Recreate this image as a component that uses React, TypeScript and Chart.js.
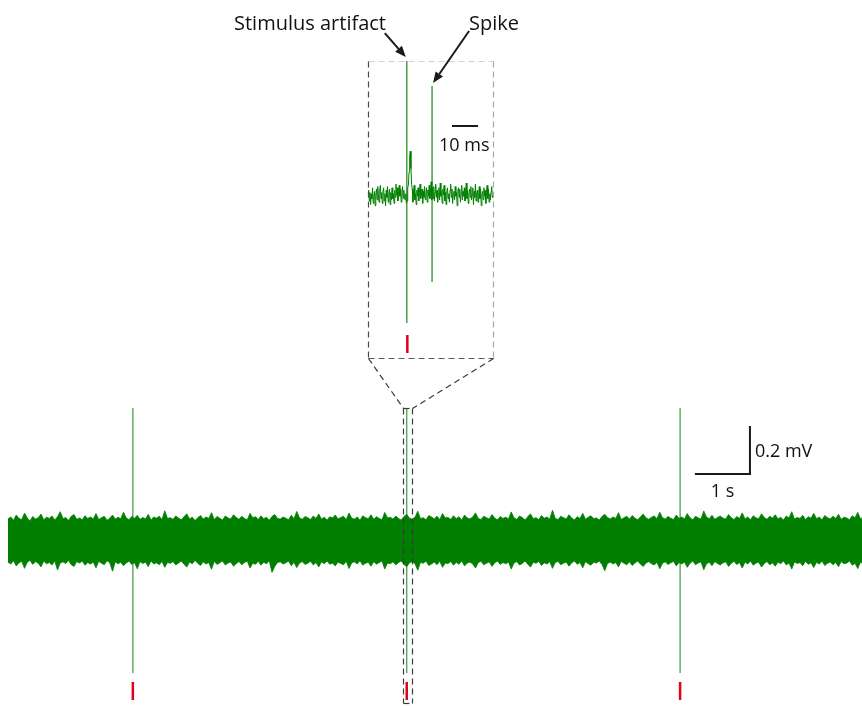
import React, { useEffect, useRef } from "react";
import { Chart, registerables } from "chart.js";

Chart.register(...registerables);

// ---------------- DATA ----------------
// Main recording: noise envelope, sampled every 0.05 s (values in µV)
const BAND_DT_S = 0.05;
const bandUpperUV = [
  88, 96, 82, 104, 90, 85, 112, 92, 80, 98, 87, 93, 108, 84, 95, 90, 100, 83, 97, 118,
  89, 94, 81, 99, 106, 86, 92, 84, 101, 90, 96, 88, 110, 85, 93, 99, 82, 91, 104, 87,
  95, 89, 116, 92, 84, 98, 90, 103, 86, 94, 88, 107, 83, 96, 91, 99, 85, 122, 90, 93,
  86, 100, 92, 84, 97, 109, 88, 95, 81, 93, 102, 87, 96, 90, 114, 85, 98, 91, 83, 100,
  92, 88, 105, 94, 86, 99, 90, 84, 111, 93, 97, 85, 101, 89, 95, 82, 98, 106, 90, 87,
  96, 91, 84, 103, 89, 119, 92, 86, 98, 93, 85, 100, 90, 108, 87, 95, 83, 97, 92, 104,
  88, 94, 99, 85, 112, 91, 87, 96, 82, 101, 93, 89, 105, 86, 97, 90, 84, 115, 92, 95,
  87, 100, 90, 83, 98, 107, 91, 86, 95, 120, 89, 93, 84, 102, 96, 88, 99, 85, 110, 92,
  94, 86, 101, 89, 97, 83, 104, 92, 88, 96, 113, 90, 85, 99, 93, 87, 106, 91, 84, 98,
  90, 95, 88, 117, 92, 86, 100, 94, 83, 97, 109, 89, 93, 85, 102, 91, 96, 87, 124, 90,
  85, 99, 93, 88, 105, 91, 84, 97, 90, 111, 86, 95, 101, 89, 92, 83, 98, 107, 94, 88,
  96, 90, 114, 85, 93, 99, 87, 102, 91, 84, 97, 108, 92, 86, 95, 100, 89, 116, 93, 87,
  98, 91, 85, 104, 90, 96, 88, 110, 93, 84, 99, 92, 87, 121, 95, 89, 103, 86, 94, 100,
  91, 87, 106, 93, 85, 98, 90, 113, 88, 96, 84, 101, 92, 89, 109, 94, 86, 99, 91, 105,
  88, 95, 83, 100, 92, 118, 87, 94, 90, 103, 85, 97, 91, 111, 89, 96, 84, 102, 93, 88,
  99, 90, 107, 86, 95, 92, 84, 101, 93, 115, 88, 97, 90, 104, 85, 96, 92, 100, 87, 94,
];
const bandLowerUV = [
  -92, -100, -86, -108, -95, -89, -118, -93, -84, -102, -90, -97, -112, -88, -99, -94, -104, -87, -125, -96,
  -91, -98, -85, -103, -110, -90, -96, -88, -105, -94, -100, -92, -116, -89, -97, -103, -86, -95, -130, -91,
  -99, -93, -107, -96, -88, -102, -94, -120, -90, -98, -92, -111, -87, -100, -95, -103, -89, -114, -94, -97,
  -90, -104, -96, -88, -101, -113, -92, -99, -85, -97, -106, -91, -100, -94, -122, -89, -102, -95, -87, -104,
  -96, -92, -109, -98, -90, -103, -94, -88, -117, -97, -101, -89, -105, -93, -99, -86, -135, -110, -94, -91,
  -100, -95, -88, -107, -93, -115, -96, -90, -102, -97, -89, -104, -94, -112, -91, -99, -87, -101, -96, -108,
  -92, -98, -103, -89, -119, -95, -91, -100, -86, -105, -97, -93, -109, -90, -101, -94, -88, -121, -96, -99,
  -91, -104, -94, -87, -102, -111, -95, -90, -99, -126, -93, -97, -88, -106, -100, -92, -103, -89, -114, -96,
  -98, -90, -105, -93, -101, -87, -108, -96, -92, -100, -117, -94, -89, -103, -97, -91, -110, -95, -88, -102,
  -94, -99, -92, -121, -96, -90, -104, -98, -87, -101, -113, -93, -97, -89, -106, -95, -100, -91, -118, -94,
  -89, -103, -97, -92, -109, -95, -88, -101, -94, -116, -90, -99, -105, -93, -96, -87, -102, -128, -98, -92,
  -100, -94, -112, -89, -97, -103, -91, -106, -95, -88, -101, -110, -96, -90, -99, -104, -93, -120, -97, -91,
  -102, -95, -89, -108, -94, -100, -92, -114, -97, -88, -103, -96, -91, -124, -99, -93, -107, -90, -98, -104,
  -95, -91, -110, -97, -89, -102, -94, -117, -92, -100, -88, -105, -96, -93, -113, -98, -90, -103, -95, -109,
  -92, -99, -87, -104, -96, -121, -91, -98, -94, -107, -89, -101, -95, -115, -93, -100, -88, -106, -97, -92,
  -103, -94, -111, -90, -99, -96, -88, -105, -97, -119, -92, -101, -94, -108, -89, -100, -96, -104, -91, -98,
];

// Stimulus times (s) and the evoked deflections (mV)
const stimTimesS = [2.27, 7.25, 12.22];
const spikeTopMV = [0.55, 0.55, 0.55];
const spikeBottomMV = [-0.554, -0.554, -0.554];
const stimMarkerMV = [-0.592, -0.667]; // red stimulus tick: top, bottom

// Zoomed window on the middle stimulus (s, mV)
const zoomWindowS = [7.18, 7.345];
const zoomWindowMV = [0.55, -0.679];

// Inset trace, sampled every 0.25 ms (values in µV)
const INSET_DT_MS = 0.25;
const insetNoiseUV = [
  -5, 20, -25, 10, -40, 5, -15, 30, -35, -10, 15, -45, 0,
  25, -20, 35, -5, -30, 20, 40, -15, 10, -35, 15, 30,
  -25, 5, -45, 20, -10, 35, -30, 0, 25, -40, 10, -20, 30, -15, 5, -35,
  20, -10, 45, 0, 30, -25, 15, 40, -5, 25, -30, 10, 35, -15, 20, -10,
  -20, 5, -35, -25, 30, 40, 95,
  165, 183, 110,
  45, 25, -30, 15, 40, -20, 5, -40, 20, -5, 30, -25, 10, 45, -15, 0, 25, -35, 15, -10,
  35, -20, 5, 30, -30, 20, -5, 40, -15, 10, 55,
  -20, 30,
  -15, 35, -25, 10, 45, -10, 20, -30, 5, 30, -20, 50, -5, 15, -35, 25, 0, 40, -25, 10,
  -40, 15, 30, -15, 5, -30, 20, 45, -10, 25, -35, 0, 15, -20, 35, -5, 10, -45, 20, 30,
  -10, 25, -30, 5, 40, -20, 15, -5, 30, -25, 10, 50, -15, 20, -35, 5, 25, -10, 35, -20,
  0, 30, -40, 15, -10, 45, -25, 5, 20, -30, 10, 35, -15, 25, -45, 0, 15, -20, 30, -5,
  20, -35, 10, 40, -15, 25, -30, 5, -20, 15, 35, -10, 0,
];
const insetEventTimesMS = [14.9, 24.6]; // stimulus artifact, spike
const insetEventTopMV = [0.558, 0.454];
const insetEventBottomMV = [-0.533, -0.363];
const insetStimTimesMS = [15.1];
const insetStimMarkerMV = [-0.583, -0.658];
const insetSpanMS = [0, 48];
const insetBoxMV = [0.56, -0.679];

// Scale bars
const scaleBarS = 1;
const scaleBarMV = 0.2;
const scaleBarOriginS = 12.49;
const scaleBarOriginMV = 0.275;
const insetScaleBarMS = 10;
const insetScaleBarStartMS = 32.26;
const insetScaleBarMV = 0.2875;

// Labels
const labelArtifact = "Stimulus artifact";
const labelSpike = "Spike";
const labelInsetBar = "10 ms";
const labelVBar = "0.2 mV";
const labelHBar = "1 s";

// ---------------- LAYOUT ----------------
const W = 862;
const H = 706;
const PX_PER_S = 55;
const ORIGIN_X = 8;
const PX_PER_MV = 240;
const BASE_Y = 540;
const INSET_ORIGIN_X = 368;
const PX_PER_MS = 2.604;
const INSET_BASE_Y = 195;

const GREEN = "#007f00";
const EDGE_GREEN = "rgba(0,127,0,0.8)";
const SPIKE_GREEN = "#3a9a3a";
const RED = "#e2001a";
const FONT = '"Open Sans", "DejaVu Sans", sans-serif';

function verticalSegments(times: number[], tops: number[], bottoms: number[]) {
  const out: { x: number; y: number | null }[] = [];
  times.forEach((t, i) => {
    out.push({ x: t, y: tops[i] });
    out.push({ x: t, y: bottoms[i] });
    out.push({ x: t, y: null });
  });
  return out;
}

function drawArrow(ctx: CanvasRenderingContext2D, x0: number, y0: number, x1: number, y1: number) {
  const ang = Math.atan2(y1 - y0, x1 - x0);
  const len = 11;
  const half = 4.5;
  const bx = x1 - len * Math.cos(ang);
  const by = y1 - len * Math.sin(ang);
  ctx.strokeStyle = "#1a1a1a";
  ctx.fillStyle = "#1a1a1a";
  ctx.lineWidth = 2;
  ctx.beginPath();
  ctx.moveTo(x0, y0);
  ctx.lineTo(bx, by);
  ctx.stroke();
  ctx.beginPath();
  ctx.moveTo(x1, y1);
  ctx.lineTo(bx + half * Math.sin(ang), by - half * Math.cos(ang));
  ctx.lineTo(bx - half * Math.sin(ang), by + half * Math.cos(ang));
  ctx.closePath();
  ctx.fill();
}

const overlayPlugin = {
  id: "overlay",
  afterDatasetsDraw(chart: any) {
    const { ctx, scales } = chart;
    const x = scales.x, y = scales.y, x2 = scales.x2, y2 = scales.y2;
    ctx.save();

    const seg = (ax: number, ay: number, bx: number, by: number, color: string) => {
      ctx.strokeStyle = color;
      ctx.beginPath();
      ctx.moveTo(ax, ay);
      ctx.lineTo(bx, by);
      ctx.stroke();
    };

    // inset box
    const bl = Math.round(x2.getPixelForValue(insetSpanMS[0])) + 0.5;
    const br = Math.round(x2.getPixelForValue(insetSpanMS[1])) + 0.5;
    const bt = Math.round(y2.getPixelForValue(insetBoxMV[0])) + 0.5;
    const bb = Math.round(y2.getPixelForValue(insetBoxMV[1])) + 0.5;
    ctx.lineWidth = 1.2;
    ctx.setLineDash([6, 4]);
    seg(bl, bt, br, bt, "#d2d2d2");
    seg(br, bt, br, bb, "#a8a8a8");
    seg(bl, bt, bl, bb, "#4a4a4a");
    seg(bl, bb, br, bb, "#5a5a5a");

    // zoom window on main trace
    const sl = Math.round(x.getPixelForValue(zoomWindowS[0])) + 0.5;
    const sr = Math.round(x.getPixelForValue(zoomWindowS[1])) + 0.5;
    const st = Math.round(y.getPixelForValue(zoomWindowMV[0])) + 0.5;
    const sb = Math.round(y.getPixelForValue(zoomWindowMV[1])) + 0.5;
    seg(sl, st, sr, st, "#3a3a3a");
    seg(sl, st, sl, sb, "#3a3a3a");
    seg(sr, st, sr, sb, "#3a3a3a");
    seg(sl, sb, sr, sb, "#3a3a3a");
    // connectors
    seg(bl, bb, sl, st, "#3a3a3a");
    seg(br, bb, sr, st, "#3a3a3a");
    ctx.setLineDash([]);

    // main scale bars
    ctx.lineWidth = 2;
    ctx.lineCap = "butt";
    const hx0 = x.getPixelForValue(scaleBarOriginS);
    const hx1 = x.getPixelForValue(scaleBarOriginS + scaleBarS);
    const hy = y.getPixelForValue(scaleBarOriginMV);
    const vy1 = y.getPixelForValue(scaleBarOriginMV + scaleBarMV);
    ctx.strokeStyle = "#1a1a1a";
    ctx.beginPath();
    ctx.moveTo(hx0, hy);
    ctx.lineTo(hx1, hy);
    ctx.moveTo(hx1, hy + 1);
    ctx.lineTo(hx1, vy1);
    ctx.stroke();

    // inset scale bar
    const ix0 = x2.getPixelForValue(insetScaleBarStartMS);
    const ix1 = x2.getPixelForValue(insetScaleBarStartMS + insetScaleBarMS);
    const iy = y2.getPixelForValue(insetScaleBarMV);
    ctx.beginPath();
    ctx.moveTo(ix0, iy);
    ctx.lineTo(ix1, iy);
    ctx.stroke();

    // texts
    ctx.fillStyle = "#111";
    ctx.textBaseline = "alphabetic";
    ctx.textAlign = "left";
    ctx.font = `20px ${FONT}`;
    ctx.fillText(labelArtifact, 234, 30);
    ctx.fillText(labelSpike, 469, 30);
    ctx.font = `18px ${FONT}`;
    ctx.fillText(labelInsetBar, ix0 - 13, iy + 25);
    ctx.fillText(labelVBar, hx1 + 5, hy - 17);
    ctx.textAlign = "center";
    ctx.fillText(labelHBar, (hx0 + hx1) / 2, hy + 23);

    // arrows to the inset events
    const ax = x2.getPixelForValue(insetEventTimesMS[0]);
    const ay = y2.getPixelForValue(insetEventTopMV[0]);
    drawArrow(ctx, ax - 22, ay - 28, ax - 1, ay - 4);
    const kx = x2.getPixelForValue(insetEventTimesMS[1]);
    const ky = y2.getPixelForValue(insetEventTopMV[1]);
    drawArrow(ctx, kx + 37, ky - 55, kx + 1, ky - 3);

    ctx.restore();
  },
};

export default function App() {
  const ref = useRef<HTMLCanvasElement | null>(null);

  useEffect(() => {
    if (!ref.current) return;

    const upper = bandUpperUV.map((v, i) => ({ x: i * BAND_DT_S, y: v / 1000 }));
    const lower = bandLowerUV.map((v, i) => ({ x: i * BAND_DT_S, y: v / 1000 }));
    const spikes = verticalSegments(stimTimesS, spikeTopMV, spikeBottomMV);
    const markers = verticalSegments(
      stimTimesS,
      stimTimesS.map(() => stimMarkerMV[0]),
      stimTimesS.map(() => stimMarkerMV[1])
    );
    const insetNoise = insetNoiseUV.map((v, i) => ({ x: i * INSET_DT_MS, y: v / 1000 }));
    const insetEvents = verticalSegments(insetEventTimesMS, insetEventTopMV, insetEventBottomMV);
    const insetMarkers = verticalSegments(
      insetStimTimesMS,
      insetStimTimesMS.map(() => insetStimMarkerMV[0]),
      insetStimTimesMS.map(() => insetStimMarkerMV[1])
    );

    const chart = new Chart(ref.current, {
      type: "line",
      data: {
        datasets: [
          {
            data: upper,
            borderColor: EDGE_GREEN,
            backgroundColor: GREEN,
            borderWidth: 1,
            fill: "+1",
            xAxisID: "x",
            yAxisID: "y",
          },
          {
            data: lower,
            borderColor: EDGE_GREEN,
            backgroundColor: GREEN,
            borderWidth: 1,
            fill: false,
            xAxisID: "x",
            yAxisID: "y",
          },
          {
            data: spikes,
            borderColor: SPIKE_GREEN,
            borderWidth: 1.2,
            fill: false,
            spanGaps: false,
            xAxisID: "x",
            yAxisID: "y",
          },
          {
            data: markers,
            borderColor: RED,
            borderWidth: 2.5,
            fill: false,
            spanGaps: false,
            xAxisID: "x",
            yAxisID: "y",
          },
          {
            data: insetNoise,
            borderColor: GREEN,
            borderWidth: 1,
            fill: false,
            xAxisID: "x2",
            yAxisID: "y2",
          },
          {
            data: insetEvents,
            borderColor: SPIKE_GREEN,
            borderWidth: 1.4,
            fill: false,
            spanGaps: false,
            xAxisID: "x2",
            yAxisID: "y2",
          },
          {
            data: insetMarkers,
            borderColor: RED,
            borderWidth: 2.5,
            fill: false,
            spanGaps: false,
            xAxisID: "x2",
            yAxisID: "y2",
          },
        ],
      },
      options: {
        responsive: false,
        animation: false,
        events: [],
        layout: { padding: 0 },
        elements: {
          point: { radius: 0, hoverRadius: 0 },
          line: { tension: 0, capBezierPoints: false, borderCapStyle: "butt" },
        },
        plugins: {
          legend: { display: false },
          tooltip: { enabled: false },
          title: { display: false },
        },
        scales: {
          x: {
            type: "linear",
            display: false,
            min: -ORIGIN_X / PX_PER_S,
            max: (W - ORIGIN_X) / PX_PER_S,
          },
          y: {
            type: "linear",
            display: false,
            min: -(H - BASE_Y) / PX_PER_MV,
            max: BASE_Y / PX_PER_MV,
          },
          x2: {
            type: "linear",
            axis: "x",
            display: false,
            min: -INSET_ORIGIN_X / PX_PER_MS,
            max: (W - INSET_ORIGIN_X) / PX_PER_MS,
          },
          y2: {
            type: "linear",
            axis: "y",
            display: false,
            min: -(H - INSET_BASE_Y) / PX_PER_MV,
            max: INSET_BASE_Y / PX_PER_MV,
          },
        },
      },
      plugins: [overlayPlugin],
    });

    return () => chart.destroy();
  }, []);

  return (
    <div
      style={{
        position: "fixed",
        left: 0,
        top: 0,
        width: W,
        height: H,
        background: "#ffffff",
        overflow: "hidden",
      }}
    >
      <canvas ref={ref} width={W} height={H} style={{ display: "block", width: W, height: H }} />
    </div>
  );
}
